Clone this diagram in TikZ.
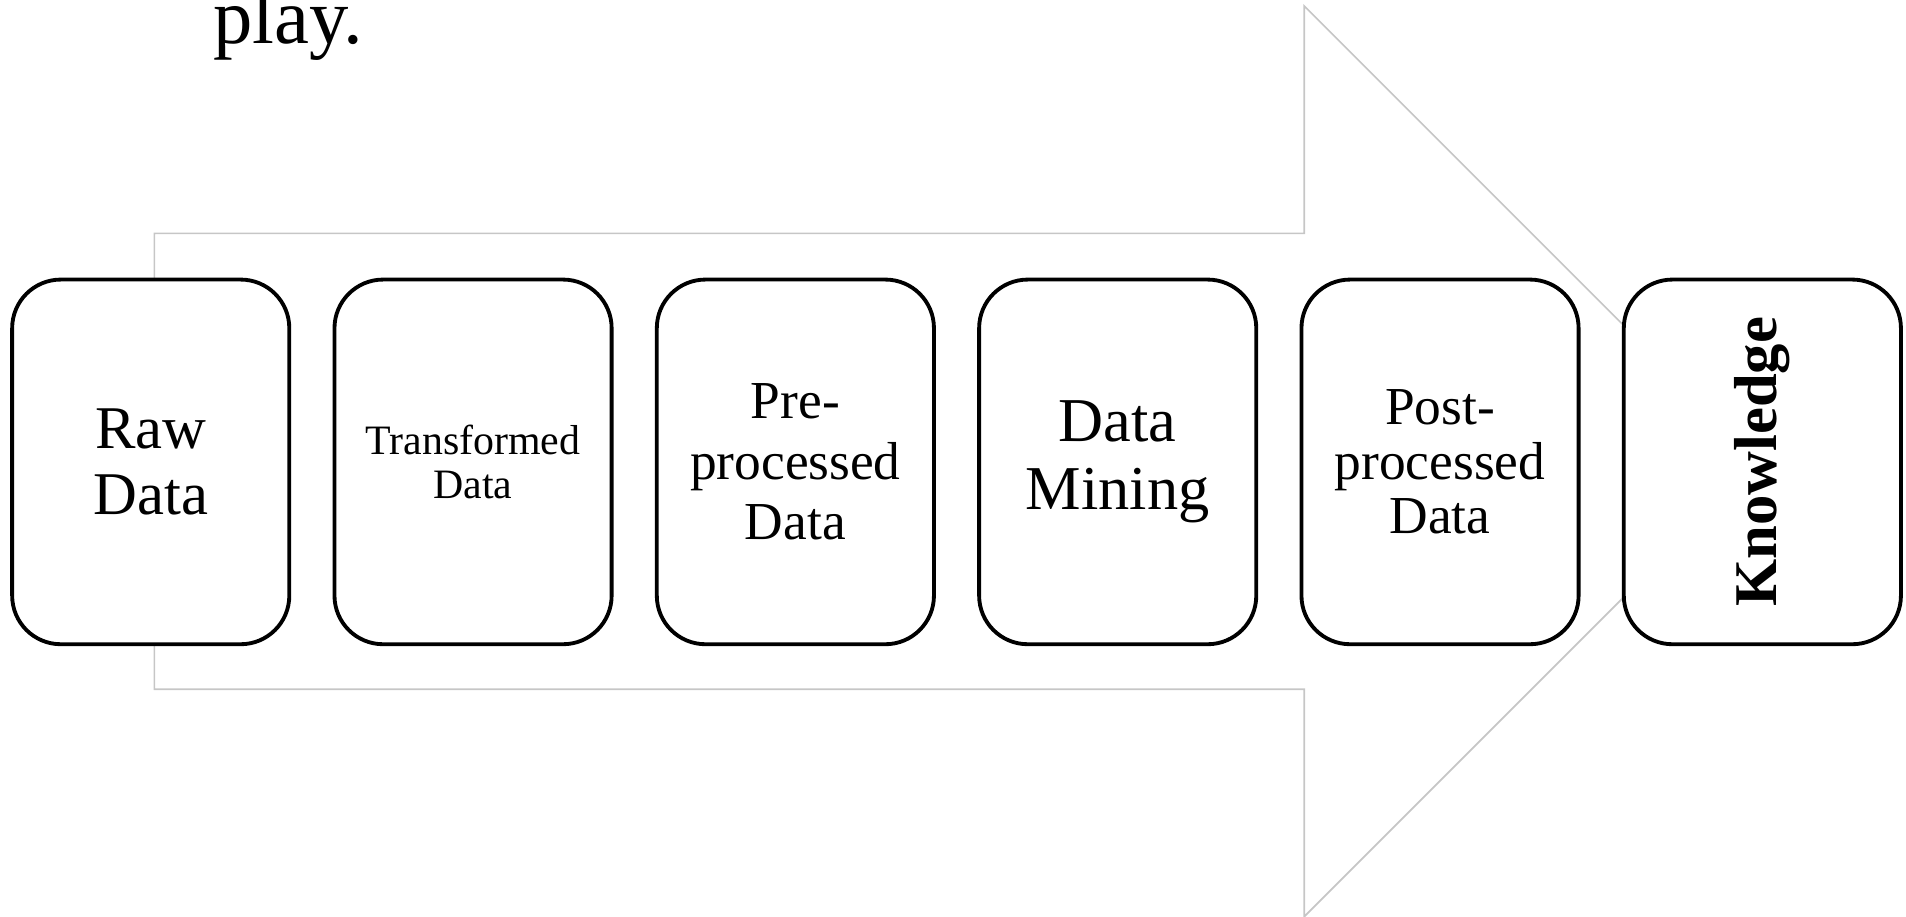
\documentclass[tikz,border=0pt]{standalone}
\usepackage{fontspec}
\setmainfont{Liberation Serif}
\usetikzlibrary{chains,positioning}

\begin{document}
\begin{tikzpicture}[start chain=going right, node distance=3.4mm,
    stage/.style={on chain, draw, line width=0.9pt, fill=white, rounded corners=4mm, minimum width=22.8mm, minimum height=30mm, align=center, inner sep=0pt},
    flow/.style={draw=gray!45, line width=0.4pt}]
                \useasboundingbox (0,0) rectangle (15.68,7.54);
                \draw[flow] (1.27,1.87) -- (1.27,5.62) -- (10.73,5.62) -- (10.73,7.49) -- (14.475,3.745) -- (10.73,0) -- (10.73,1.87) -- cycle;
                \node[stage, font=\fontsize{14.2}{15.6}\selectfont] (raw) at (1.24,3.74) {Raw\\Data};
                \node[stage, font=\fontsize{9.8}{10.3}\selectfont] (trans) {Transformed\\Data};
                \node[stage, font=\fontsize{12.5}{14.2}\selectfont] (pre) {Pre-\\processed\\Data};
                \node[stage, font=\fontsize{14.6}{15.8}\selectfont] (mining) {Data\\Mining};
                \node[stage, font=\fontsize{12.5}{12.8}\selectfont] (post) {Post-\\processed\\Data};
                \node[stage, font=\fontsize{14.2}{17}\selectfont\bfseries] (know) {\rotatebox{90}{Knowledge}};
                \node[anchor=base west, inner sep=0pt, font=\fontsize{18.4}{21}\selectfont] (play) at (1.75,7.18) {play.};
            \end{tikzpicture}
\end{document}
